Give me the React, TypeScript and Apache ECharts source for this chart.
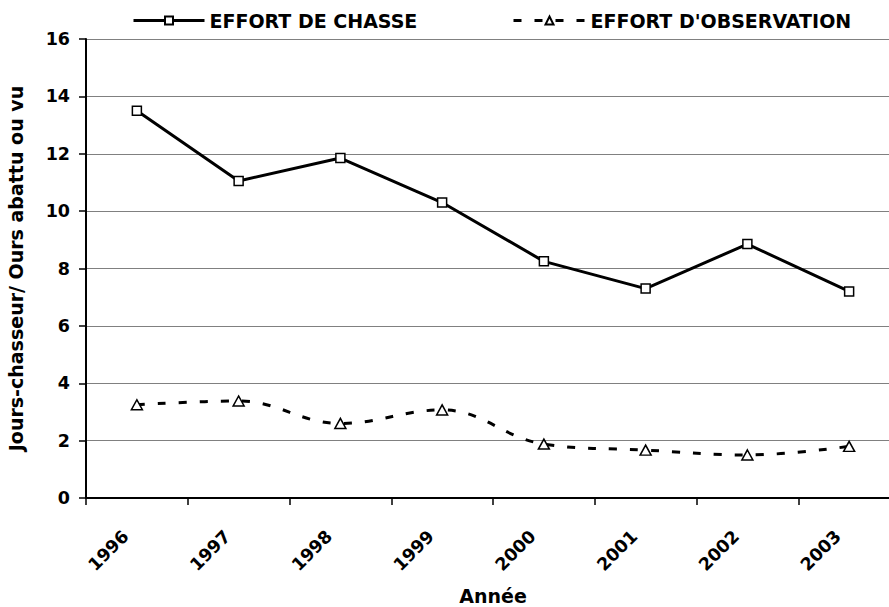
import React, { useEffect, useRef } from "react";
import * as echarts from "echarts";

const years = ["1996", "1997", "1998", "1999", "2000", "2001", "2002", "2003"];
const effortChasse = [13.5, 11.05, 11.85, 10.3, 8.25, 7.3, 8.85, 7.2];
const effortObservation = [3.25, 3.38, 2.6, 3.07, 1.88, 1.67, 1.5, 1.8];
const seriesNames = ["EFFORT DE CHASSE", "EFFORT D'OBSERVATION"];
const yAxisName = "Jours-chasseur/ Ours abattu ou vu";
const xAxisName = "Année";

const FONT = "DejaVu Sans";

export default function App() {
  const ref = useRef<HTMLDivElement>(null);
  useEffect(() => {
    const chart = echarts.init(ref.current!, null, { renderer: "svg" });
    const boldText = { fontFamily: FONT, fontWeight: "bold" as const, color: "#000" };
    chart.setOption({
      animation: false,
      backgroundColor: "#fff",
      grid: {
        left: 86,
        top: 39,
        width: 814,
        height: 459,
        containLabel: false,
        outerBoundsMode: "none",
      },
      legend: [
        {
          data: [seriesNames[0]],
          left: 132,
          top: 11,
          padding: 0,
          itemWidth: 71,
          itemHeight: 10,
          lineStyle: { width: 3 },
          textStyle: { ...boldText, fontSize: 19 },
        },
        {
          data: [seriesNames[1]],
          left: 512,
          top: 11,
          padding: 0,
          itemWidth: 72,
          itemHeight: 10,
          lineStyle: { width: 3 },
          textStyle: { ...boldText, fontSize: 19 },
        },
      ],
      xAxis: {
        type: "category",
        data: years,
        boundaryGap: true,
        axisLine: { show: true, lineStyle: { color: "#000", width: 2 } },
        axisTick: { show: true, length: 7, lineStyle: { color: "#000", width: 1.5 } },
        axisLabel: {
          ...boldText,
          fontSize: 17.5,
          rotate: 45,
          margin: 24,
          interval: 0,
          padding: [0, 16, 0, 0],
        },
        splitLine: { show: false },
        name: xAxisName,
        nameLocation: "middle",
        nameGap: 88,
        nameTextStyle: { ...boldText, fontSize: 19 },
      },
      yAxis: {
        type: "value",
        min: 0,
        max: 16,
        interval: 2,
        axisLine: { show: true, lineStyle: { color: "#000", width: 2 } },
        axisTick: { show: true, length: 7, lineStyle: { color: "#000", width: 1.5 } },
        axisLabel: { ...boldText, fontSize: 17.5, margin: 16 },
        splitLine: { show: true, lineStyle: { color: "#808080", width: 1.2 } },
        name: yAxisName,
        nameLocation: "middle",
        nameRotate: 90,
        nameGap: 61,
        nameTextStyle: { ...boldText, fontSize: 19 },
      },
      series: [
        {
          name: seriesNames[0],
          type: "line",
          data: effortChasse,
          symbol: "rect",
          symbolSize: 9,
          itemStyle: { color: "#fff", borderColor: "#000", borderWidth: 1.5 },
          lineStyle: { color: "#000", width: 3 },
          z: 3,
        },
        {
          name: seriesNames[1],
          type: "line",
          data: effortObservation,
          smooth: 0.4,
          symbol: "triangle",
          symbolSize: [11, 10],
          itemStyle: { color: "#fff", borderColor: "#000", borderWidth: 1.5 },
          lineStyle: { color: "#000", width: 3, type: [8, 13] },
          z: 3,
        },
      ],
    });
    return () => chart.dispose();
  }, []);
  return (
    <div
      ref={ref}
      style={{ position: "fixed", left: 0, top: 0, width: 889, height: 607, background: "#fff" }}
    />
  );
}
